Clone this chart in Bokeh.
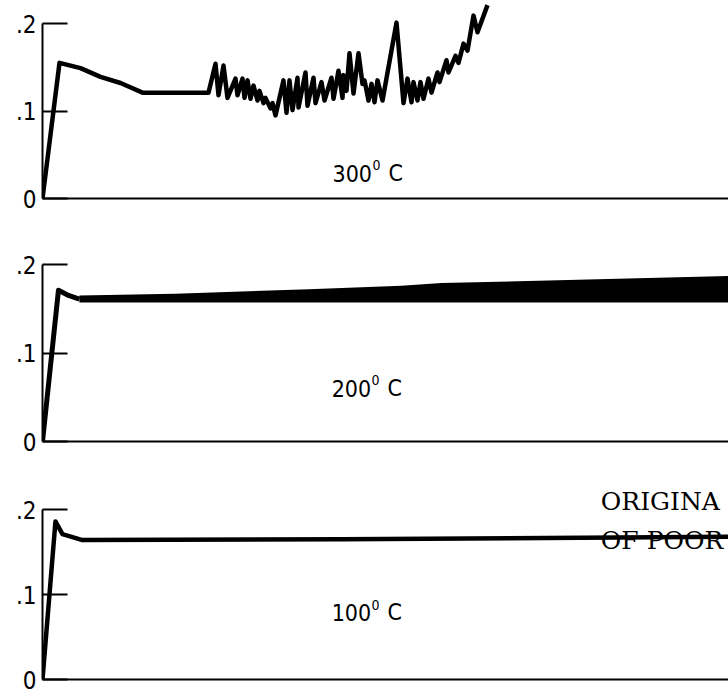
from bokeh.plotting import figure
from bokeh.models import LinearAxis, FixedTicker, Range1d, CustomJSTickFormatter
from bokeh.layouts import column
from bokeh.core.properties import value
from bokeh.embed import file_html
from bokeh.resources import INLINE

# ---- data (x in arbitrary time units from the axis, y = strain-like value) ----
y_ticks = [0, 0.1, 0.2]

# 300 C
x300 = [0, 17, 38, 58, 78, 100, 166, 173, 176, 181, 185, 193, 195, 200, 202, 205, 208,
        211, 215, 217, 221, 223, 228, 230, 233, 241, 244, 247, 250, 255, 256, 263, 265,
        271, 273, 279, 282, 289, 291, 296, 300, 301, 304, 307, 311, 316, 320, 322, 326,
        329, 332, 335, 340, 354, 361, 365, 369, 371, 375, 378, 381, 386, 389, 395, 397,
        404, 406, 413, 416, 421, 425, 431, 435, 445]
y300 = [0.0, 0.155, 0.149, 0.139, 0.132, 0.121, 0.121, 0.154, 0.118, 0.152, 0.115, 0.137,
        0.118, 0.137, 0.115, 0.135, 0.114, 0.129, 0.112, 0.123, 0.109, 0.115, 0.103, 0.109,
        0.095, 0.135, 0.098, 0.135, 0.101, 0.138, 0.104, 0.144, 0.106, 0.138, 0.109, 0.133,
        0.112, 0.138, 0.114, 0.146, 0.115, 0.141, 0.123, 0.166, 0.120, 0.166, 0.131, 0.135,
        0.112, 0.131, 0.110, 0.135, 0.112, 0.201, 0.109, 0.137, 0.110, 0.133, 0.112, 0.133,
        0.114, 0.137, 0.121, 0.144, 0.133, 0.158, 0.144, 0.163, 0.155, 0.177, 0.169, 0.209,
        0.190, 0.221]

# 200 C: initial rise, then a dense oscillation band
x200 = [0, 16, 26, 37]
y200 = [0.0, 0.171, 0.165, 0.161]
x200_band = [37, 133, 267, 360, 400, 688]
y200_low = [0.157, 0.157, 0.157, 0.157, 0.157, 0.157]
y200_high = [0.165, 0.167, 0.172, 0.176, 0.179, 0.187]

# 100 C
x100 = [0, 13, 20, 40, 300, 688]
y100 = [0.0, 0.186, 0.171, 0.164, 0.165, 0.168]

labels = ["300", "200", "100"]

NARROW = "DejaVu Sans Condensed"
fmt = CustomJSTickFormatter(code="return tick === 0 ? '0' : String(tick).replace('0.', '.');")


def make_panel(height, left, top, bottom, x_end, y_end):
    p = figure(width=728, height=height, x_range=Range1d(0, x_end), y_range=Range1d(0, y_end),
               output_backend="svg", toolbar_location=None,
               min_border_left=left, min_border_right=0, min_border_top=top,
               min_border_bottom=bottom, x_axis_location=None, y_axis_location=None)
    p.outline_line_color = None
    p.grid.visible = False
    p.background_fill_color = "white"
    p.border_fill_color = "white"
    yax = LinearAxis(ticker=FixedTicker(ticks=y_ticks), formatter=fmt, bounds=(0, 0.2))
    yax.major_tick_in = 25
    yax.major_tick_out = 0
    yax.minor_tick_line_color = None
    yax.axis_line_width = 2
    yax.major_tick_line_width = 2
    yax.major_label_standoff = 6
    yax.major_label_text_font = NARROW
    yax.major_label_text_font_size = "24px"
    yax.major_label_text_color = "black"
    p.add_layout(yax, "left")
    xax = LinearAxis(ticker=FixedTicker(ticks=[]))
    xax.major_tick_in = 0
    xax.major_tick_out = 0
    xax.minor_tick_line_color = None
    xax.axis_line_width = 2
    xax.major_label_text_font_size = "0px"
    xax.major_label_standoff = 0
    p.add_layout(xax, "below")
    return p


def temp_label(p, txt, x, y, dy):
    p.text(x=[x], y=[y], text=[txt], text_font=value(NARROW), text_font_size="23px",
           text_baseline="middle", text_align="left", text_color="black")
    p.text(x=[x + 40], y=[y + dy], text=["0"], text_font=value(NARROW), text_font_size="14px",
           text_baseline="middle", text_align="left", text_color="black")
    p.text(x=[x + 56], y=[y], text=["C"], text_font=value(NARROW), text_font_size="23px",
           text_baseline="middle", text_align="left", text_color="black")


p1 = make_panel(220, 42, 0, 22, 686, 198 / 875)
p1.line(x300, y300, line_width=4.5, line_color="black", line_join="round")
temp_label(p1, labels[0], 290, 0.029, 0.009)

p2 = make_panel(235, 40, 10, 14, 688, 211 / 885)
p2.varea(x=x200_band, y1=y200_low, y2=y200_high, fill_color="black")
p2.line(x200, y200, line_width=5, line_color="black", line_join="round")
temp_label(p2, labels[1], 290, 0.060, 0.009)

p3 = make_panel(239, 40, 10, 15, 688, 214 / 850)
p3.line(x100, y100, line_width=4.5, line_color="black", line_join="round")
temp_label(p3, labels[2], 290, 0.079, 0.009)
p3.text(x=[560], y=[0.210], text=["ORIGINA"], text_font=value("DejaVu Serif"),
        text_font_size="25px", text_baseline="middle", text_align="left", text_color="black")
p3.text(x=[560], y=[0.163], text=["OF POOR"], text_font=value("DejaVu Serif"),
        text_font_size="25px", text_baseline="middle", text_align="left", text_color="black")

layout = column(p1, p2, p3, spacing=0)
open("out.html", "w").write(file_html(layout, INLINE))
